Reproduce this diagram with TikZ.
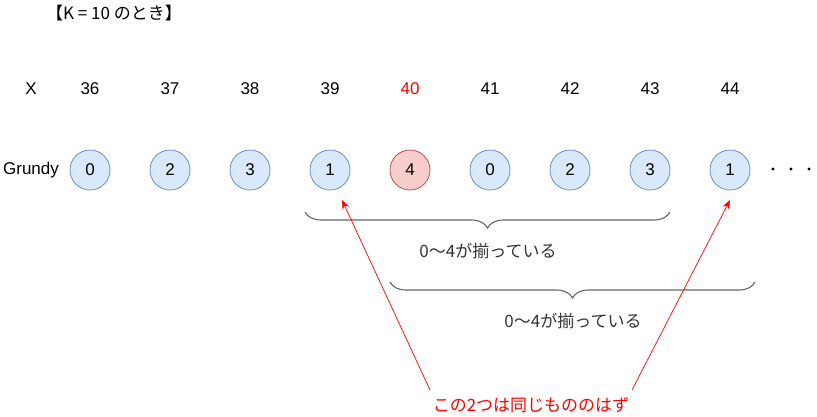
\documentclass[tikz,border=0pt]{standalone}
\usepackage{fontspec}
\setmainfont{Liberation Sans}
\newfontfamily\jpfont{Noto Sans CJK JP}
\usetikzlibrary{decorations.pathreplacing,arrows.meta}

\definecolor{blueFill}{HTML}{DAE8FC}
\definecolor{blueLine}{HTML}{6C8EBF}
\definecolor{redFill}{HTML}{F8CECC}
\definecolor{redLine}{HTML}{B85450}
\definecolor{braceGray}{HTML}{666666}
\definecolor{noteRed}{HTML}{FF0000}

\begin{document}
\begin{tikzpicture}[x=1pt,y=-1pt,
    font=\fontsize{17}{20}\selectfont,
    gnode/.style={circle,draw=blueLine,fill=blueFill,line width=0.8pt,minimum size=40pt,inner sep=0pt},
    hot/.style={gnode,draw=redLine,fill=redFill},
    bracebox/.style={draw=braceGray,line width=1.1pt,decorate,decoration={brace,mirror,amplitude=16pt}},
    pointer/.style={draw=noteRed,line width=0.7pt,-{Stealth[length=9pt,width=7pt]}}]
    \useasboundingbox (0,0) rectangle (817,416);

    % title and row labels
    \node (title) at (114,13) {\jpfont 【K = 10 のとき】};
    \node (xlab) at (31,89) {X};
    \node (glab) at (31,170) {Grundy};

    % X values and their Grundy numbers
    \foreach \i/\x/\g in {1/36/0,2/37/2,3/38/3,4/39/1,6/41/0,7/42/2,8/43/3,9/44/1}{
        \node (x\i) at (10+80*\i,89) {\x};
        \node[gnode] (g\i) at (10+80*\i,170) {\g};
    }
    \node[text=noteRed] (x5) at (410,89) {40};
    \node[hot] (g5) at (410,170) {4};

    % trailing dots
    \foreach \d in {0,1,2}{
        \fill (773+18*\d,169) circle (1.6pt);
    }

    % the two windows of five
    \coordinate (b1s) at (305,212);
    \coordinate (b1e) at (670,212);
    \coordinate (b2s) at (390,282);
    \coordinate (b2e) at (755,282);
    \draw[bracebox] (b1s) -- (b1e);
    \draw[bracebox] (b2s) -- (b2e);
    \node[text=black!80] (win1) at (488,251) {\jpfont 0～4が揃っている};
    \node[text=black!80] (win2) at (573,321) {\jpfont 0～4が揃っている};

    % note with arrows
    \node[text=noteRed] (note) at (531,405) {\jpfont この2つは同じもののはず};
    \coordinate (t1) at (430,390);
    \coordinate (t2) at (632,390);
    \draw[pointer] (t1) -- (342,200);
    \draw[pointer] (t2) -- (730,200);
\end{tikzpicture}
\end{document}
